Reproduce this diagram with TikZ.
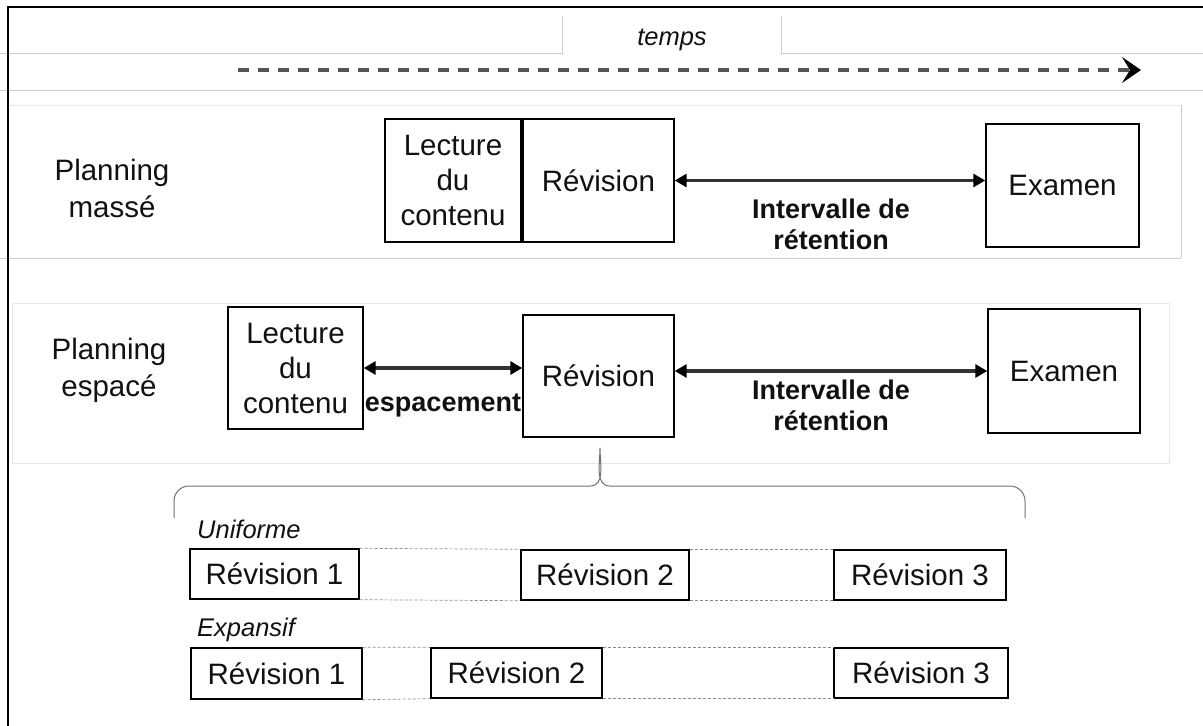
\documentclass[tikz,border=0pt]{standalone}
\usepackage{fontspec}
\setmainfont{Liberation Sans}
\usepackage{xcolor}
\usetikzlibrary{arrows.meta}
\definecolor{ink}{HTML}{111111}
\definecolor{rule}{HTML}{CCCCCC}
\definecolor{faint}{HTML}{E8E8E8}
\definecolor{timeline}{HTML}{555555}
\definecolor{shaft}{HTML}{333333}
\definecolor{dashgray}{HTML}{8A8A8A}
\definecolor{bracegray}{HTML}{707070}
\tikzset{
  frameline/.style={draw=black, line width=1.6pt},
  ruleline/.style={draw=rule, line width=1pt},
  faintline/.style={draw=faint, line width=1pt},
  timearrow/.style={draw=timeline, line width=3.6pt, dash pattern=on 11pt off 9pt,
    -{Stealth[length=19pt, width=26pt, inset=8pt, black]}},
  interval/.style={draw=shaft, line width=3.2pt,
    {Triangle[length=12pt, width=13pt, black]}-{Triangle[length=12pt, width=13pt, black]}},
  box/.style={draw=black, line width=1.4pt, text=ink, align=center, inner sep=0pt,
    font=\fontsize{29.5}{35}\selectfont},
  lbl/.style={text=ink, align=center, font=\fontsize{29.5}{37}\selectfont},
  blbl/.style={text=ink, align=center, font=\fontsize{27}{31}\selectfont\bfseries},
  ilbl/.style={text=ink, anchor=west, inner sep=0pt, font=\fontsize{25.5}{30}\selectfont\itshape},
  dashlink/.style={draw=dashgray, line width=0.7pt, dash pattern=on 3pt off 2pt},
  bracestyle/.style={draw=bracegray, line width=1pt}
}
\begin{document}
\begin{tikzpicture}[x=1pt, y=-1pt]
  \useasboundingbox (0,0) rectangle (1203,726);

  % header: tab with the time axis
  \draw[ruleline] (0,53) -- (562,53) -- (562,16);
  \draw[ruleline] (781,16) -- (781,53) -- (1203,53);
  \draw[ruleline] (0,90) -- (1203,90);
  \node[ilbl, anchor=center] (temps) at (672,40) {temps};
  \coordinate (t0) at (238,70);
  \coordinate (t1) at (1141,70);
  \draw[timearrow] (t0) -- (t1);

  % row panels
  \draw[faintline] (8,105) -- (1181,105);
  \draw[ruleline] (1181,105) -- (1181,258);
  \draw[ruleline] (0,258) -- (1181,258);
  \draw[faintline] (12,303) rectangle (1169,463);

  % massed schedule
  \node[lbl] (mass) at (112,188.5) {Planning\\massé};
  \node[box, minimum width=136pt, minimum height=123pt] (lec1) at (453,180.5) {Lecture\\du\\contenu};
  \node[box, minimum width=151pt, minimum height=123pt] (rev1) at (598.5,180.5) {Révision};
  \node[box, minimum width=153pt, minimum height=123pt] (exa1) at (1062.5,185.5) {Examen};
  \draw[interval] (rev1.east) -- (rev1.east -| exa1.west);
  \node[blbl] (ret1) at (831,224.5) {Intervalle de\\rétention};

  % spaced schedule
  \node[lbl] (spac) at (109,370.5) {Planning\\espacé};
  \node[box, minimum width=135pt, minimum height=122pt] (lec2) at (295.5,368) {Lecture\\du\\contenu};
  \node[box, minimum width=151pt, minimum height=122pt] (rev2) at (598.5,376) {Révision};
  \node[box, minimum width=152pt, minimum height=124pt] (exa2) at (1064,371) {Examen};
  \draw[interval] (lec2.east) -- (lec2.east -| rev2.west);
  \draw[interval] (exa2.west -| rev2.east) -- (exa2.west);
  \node[blbl] (esp) at (443,405) {espacement};
  \node[blbl] (ret2) at (831,405) {Intervalle de\\rétention};

  % brace under the review
  \coordinate (tip) at (600,448);
  \draw[bracestyle] (174,518) -- (174,501) to[out=90, in=180] (189,486) -- (590,486)
    to[out=0, in=-90] (tip) to[out=-90, in=180] (610,486) -- (1010,486)
    to[out=0, in=90] (1025,501) -- (1025,518);

  % uniform spacing
  \node[ilbl] (unif) at (197,529) {Uniforme};
  \node[box, minimum width=169pt, minimum height=50pt] (u1) at (274.5,574) {Révision 1};
  \node[box, minimum width=168pt, minimum height=50pt] (u2) at (605,575) {Révision 2};
  \node[box, minimum width=172pt, minimum height=50pt] (u3) at (920,575) {Révision 3};
  \draw[dashlink] (u1.north east) -- (u2.north west) (u1.south east) -- (u2.south west);
  \draw[dashlink] (u2.north east) -- (u3.north west) (u2.south east) -- (u3.south west);

  % expanding spacing
  \node[ilbl] (expa) at (197,630) {Expansif};
  \node[box, minimum width=171pt, minimum height=51pt] (e1) at (276.5,673.5) {Révision 1};
  \node[box, minimum width=171pt, minimum height=50pt] (e2) at (516.5,673) {Révision 2};
  \node[box, minimum width=174pt, minimum height=50pt] (e3) at (921,673) {Révision 3};
  \draw[dashlink] (e1.north east) -- (e2.north west) (e1.south east) -- (e2.south west);
  \draw[dashlink] (e2.north east) -- (e3.north west) (e2.south east) -- (e3.south west);

  % outer frame
  \draw[frameline] (8,726) -- (8,7) -- (1203,7);
\end{tikzpicture}
\end{document}
